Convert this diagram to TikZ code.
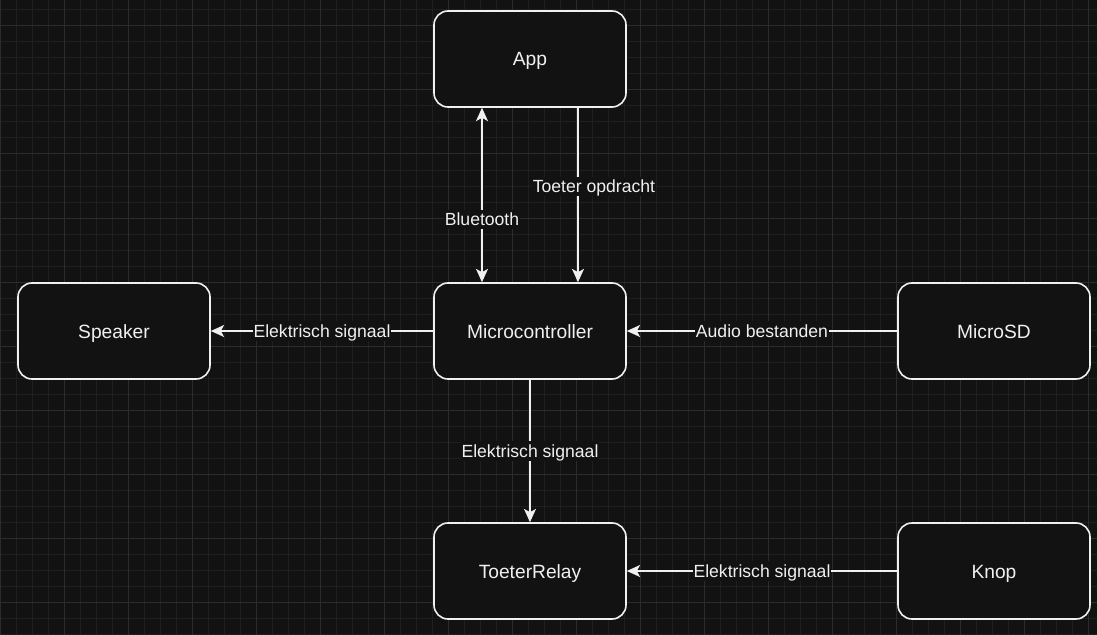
\documentclass[tikz,border=0pt]{standalone}
\usepackage{fontspec}
\setmainfont{Liberation Sans}
\usetikzlibrary{arrows.meta,calc}
\definecolor{bgc}{HTML}{121212}
\definecolor{gminor}{HTML}{1F1F1F}
\definecolor{gmajor}{HTML}{2C2C2C}
\definecolor{fg}{HTML}{F0F0F0}
\tikzset{
  box/.style={draw=fg, fill=bgc, line width=1.2pt, rounded corners=10.5pt,
    minimum width=144pt, minimum height=72pt, text=fg,
    text height=13pt, text depth=2.5pt,
    font=\fontsize{14.4pt}{17pt}\selectfont},
  conn/.style={draw=fg, line width=1.15pt,
    -{Stealth[length=10pt,width=9pt,inset=2.5pt]}},
  lbl/.style={fill=bgc, text=fg, inner xsep=0.5pt, inner ysep=0.5pt,
    text height=11.4pt, text depth=2pt,
    font=\fontsize{13.2pt}{15pt}\selectfont},
  minorgrid/.style={draw=gminor, line width=0.75pt},
  majorgrid/.style={draw=gmajor, line width=0.75pt}
}
\begin{document}
\begin{tikzpicture}[x=0.75pt,y=-0.75pt]
\fill[bgc] (0,0) rectangle (1097,635);
\useasboundingbox (0,0) rectangle (1097,635);
% grid
\foreach \gx in {0,16,...,1096} {\draw[minorgrid] (\gx,0) -- (\gx,635);}
\foreach \gy in {10,26,...,634} {\draw[minorgrid] (0,\gy) -- (1097,\gy);}
\foreach \gx in {0,64,...,1096} {\draw[majorgrid] (\gx,0) -- (\gx,635);}
\foreach \gy in {26,90,...,634} {\draw[majorgrid] (0,\gy) -- (1097,\gy);}
% nodes
\node[box] (app) at (530,59) {App};
\node[box] (speaker) at (114,331) {Speaker};
\node[box] (micro) at (530,331) {Microcontroller};
\node[box] (sd) at (994,331) {MicroSD};
\node[box] (relay) at (530,571) {ToeterRelay};
\node[box] (knop) at (994,571) {Knop};
% connectors
\draw[conn,{Stealth[length=10pt,width=9pt,inset=2.5pt]}-{Stealth[length=10pt,width=9pt,inset=2.5pt]}]
  ($(app.south)+(-48,0)$) -- node[lbl,pos=0.64] {Bluetooth} ($(micro.north)+(-48,0)$);
\draw[conn] ($(app.south)+(48,0)$) -- node[lbl,pos=0.449,xshift=12pt] {Toeter opdracht} ($(micro.north)+(48,0)$);
\draw[conn] (micro.west) -- node[lbl] {Elektrisch signaal} (speaker.east);
\draw[conn] (sd.west) -- node[lbl] {Audio bestanden} (micro.east);
\draw[conn] (micro.south) -- node[lbl] {Elektrisch signaal} (relay.north);
\draw[conn] (knop.west) -- node[lbl] {Elektrisch signaal} (relay.east);
\end{tikzpicture}
\end{document}
